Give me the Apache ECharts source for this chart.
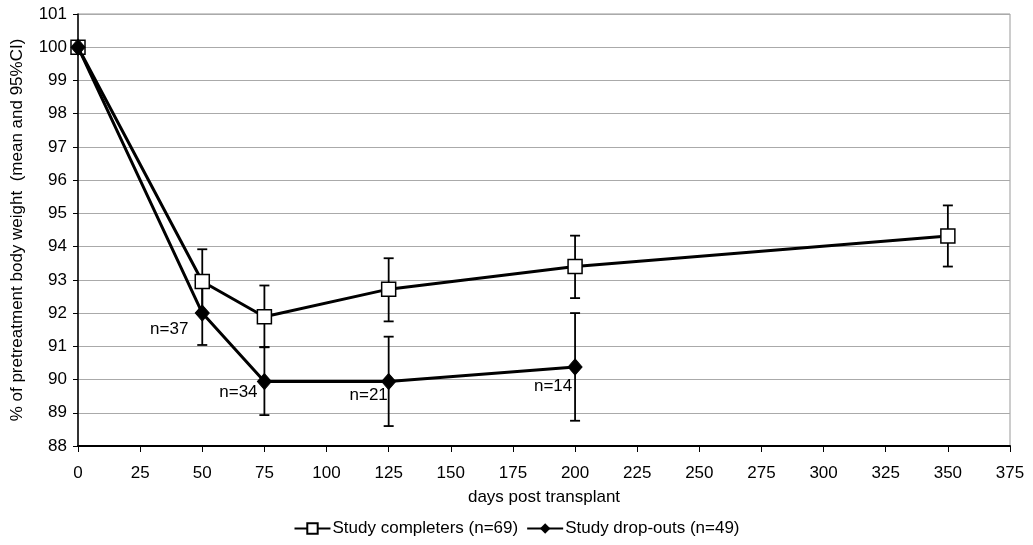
<!DOCTYPE html>
<html><head><meta charset="utf-8">
<script src="https://cdn.jsdelivr.net/npm/echarts@6/dist/echarts.min.js"></script>
<style>html,body{margin:0;padding:0;background:#fff}#c{width:1033px;height:545px}</style>
</head><body><div id="c"></div>
<script>
const days = [0, 50, 75, 125, 200, 350];
const completersMean = [100, 92.95, 91.89, 92.72, 93.40, 94.32];
const completersLow  = [100, 91.98, 90.97, 91.75, 92.45, 93.40];
const completersHigh = [100, 93.92, 92.83, 93.65, 94.33, 95.24];
const dropDays = [0, 50, 75, 125, 200];
const dropoutsMean = [100, 92.0, 89.94, 89.94, 90.38];
const dropoutsLow  = [100, 91.04, 88.93, 88.60, 88.76];
const dropoutsHigh = [100, 92.96, 90.98, 91.29, 92.00];
const nLabels = ['', 'n=37', 'n=34', 'n=21', 'n=14'];
const xTicks = [0,25,50,75,100,125,150,175,200,225,250,275,300,325,350,375];
const labelOffsets = [[0,0],[-33,16],[-26,11],[-20,14],[-22,19]];

const font = 'Liberation Sans, Arial, sans-serif';

function errData(xs, lo, hi) {
  return xs.map((x, i) => [x, lo[i], hi[i]]).filter(d => d[1] !== d[2]);
}
function errRender(params, api) {
  const x = api.value(0);
  const p1 = api.coord([x, api.value(1)]);
  const p2 = api.coord([x, api.value(2)]);
  const w = 5;
  const st = { stroke: '#000', lineWidth: 1.8 };
  return { type: 'group', children: [
    { type: 'line', shape: { x1: p1[0], y1: p1[1], x2: p2[0], y2: p2[1] }, style: st },
    { type: 'line', shape: { x1: p1[0]-w, y1: p1[1], x2: p1[0]+w, y2: p1[1] }, style: st },
    { type: 'line', shape: { x1: p2[0]-w, y1: p2[1], x2: p2[0]+w, y2: p2[1] }, style: st }
  ]};
}

const chart = echarts.init(document.getElementById('c'));
chart.setOption({
  animation: false,
  backgroundColor: '#fff',
  textStyle: { fontFamily: font },
  grid: { left: 78, right: 23, top: 14, bottom: 99, show: true, borderColor: '#999', borderWidth: 1 },
  xAxis: {
    type: 'value', min: 0, max: 375, interval: 25,
    name: 'days post transplant', nameLocation: 'middle', nameGap: 43,
    nameTextStyle: { fontSize: 17, color: '#000', fontFamily: font },
    axisLine: { show: true, onZero: false, lineStyle: { color: '#000', width: 2 } },
    axisTick: { show: true, length: 6, lineStyle: { color: '#000' } },
    axisLabel: { fontSize: 17, color: '#000', margin: 19, fontFamily: font },
    splitLine: { show: false }
  },
  yAxis: {
    type: 'value', min: 88, max: 101, interval: 1,
    name: '% of pretreatment body weight  (mean and 95%CI)', nameLocation: 'middle', nameGap: 52,
    nameTextStyle: { fontSize: 17, color: '#000', fontFamily: font },
    axisLine: { show: true, lineStyle: { color: '#000', width: 1.5 } },
    axisTick: { show: true, length: 5, lineStyle: { color: '#000' } },
    axisLabel: { fontSize: 17, color: '#000', margin: 11, fontFamily: font },
    splitLine: { show: true, lineStyle: { color: '#aaa', width: 1 } }
  },
  legend: {
    bottom: 3, left: 'center', itemWidth: 36, itemHeight: 13, itemGap: 8,
    textStyle: { fontSize: 17, color: '#000', fontFamily: font, padding: [0, 0, 0, -3] },
    data: ['Study completers (n=69)', 'Study drop-outs (n=49)']
  },
  series: [
    { type: 'custom', name: 'err1', renderItem: errRender, data: errData(days, completersLow, completersHigh), z: 1, silent: true },
    { type: 'custom', name: 'err2', renderItem: errRender, data: errData(dropDays, dropoutsLow, dropoutsHigh), z: 1, silent: true },
    {
      type: 'line', name: 'Study completers (n=69)',
      data: days.map((d, i) => [d, completersMean[i]]),
      lineStyle: { color: '#000', width: 3 },
      itemStyle: { color: '#fff', borderColor: '#000', borderWidth: 1.5 },
      symbol: 'rect', symbolSize: 14, showAllSymbol: true, z: 3
    },
    {
      type: 'line', name: 'Study drop-outs (n=49)',
      data: dropDays.map((d, i) => ({
        value: [d, dropoutsMean[i]],
        label: { show: nLabels[i] !== '', formatter: nLabels[i], position: 'inside', offset: labelOffsets[i],
                 fontSize: 17, color: '#000', fontFamily: font }
      })),
      lineStyle: { color: '#000', width: 3 },
      itemStyle: { color: '#000', borderColor: '#000' },
      symbol: 'diamond', symbolSize: [14, 16], showAllSymbol: true, z: 4
    }
  ]
});
</script></body></html>
